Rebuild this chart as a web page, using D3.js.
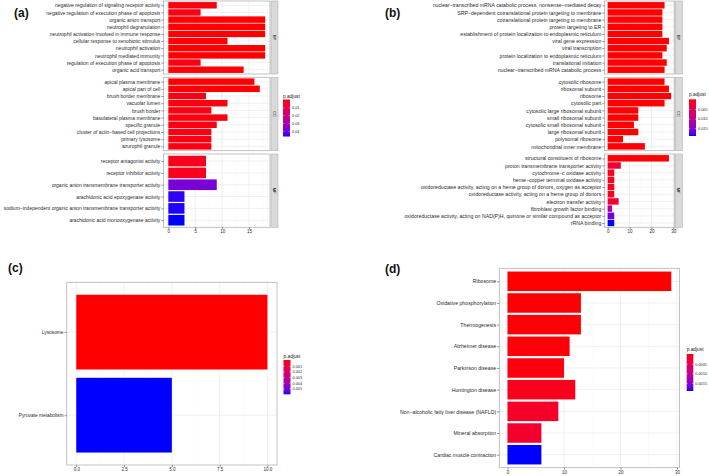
<!DOCTYPE html>
<html><head><meta charset="utf-8">
<script src="https://cdn.jsdelivr.net/npm/d3@7"></script>
<style>body{margin:0;background:#fff}svg text{font-family:'Liberation Sans',Arial,Helvetica,sans-serif}</style>
</head><body><svg id="c" width="709" height="476"></svg>
<script>
// ---------- Panel (a) data ----------
const aBPTerms = ["negative regulation of signaling receptor activity","negative regulation of execution phase of apoptosis","organic anion transport","neutrophil degranulation","neutrophil activation involved in immune response","cellular response to xenobiotic stimulus","neutrophil activation","neutrophil mediated immunity","regulation of execution phase of apoptosis","organic acid transport"];
const aBPCounts = [9,6,18,18,18,11,18,18,6,14];
const aBPPadj = [0.0015,0.002,0.0005,0.0006,0.0006,0.0012,0.0006,0.0006,0.002,0.001];
const aCCTerms = ["apical plasma membrane","apical part of cell","brush border membrane","vacuolar lumen","brush border","basolateral plasma membrane","specific granule","cluster of actin−based cell projections","primary lysosome","azurophil granule"];
const aCCCounts = [16,17,7,11,8,11,9,8,8,8];
const aCCPadj = [0.0008,0.0008,0.002,0.0015,0.002,0.0015,0.002,0.002,0.002,0.002];
const aMFTerms = ["receptor antagonist activity","receptor inhibitor activity","organic anion transmembrane transporter activity","arachidonic acid epoxygenase activity","sodium−independent organic anion transmembrane transporter activity","arachidonic acid monooxygenase activity"];
const aMFCounts = [7,7,9,3,3,3];
const aMFPadj = [0.003,0.003,0.038,0.0445,0.045,0.0455];
const aLegendTicks = [0.01,0.02,0.03,0.04];
const aLegendLabels = ["0.01","0.02","0.03","0.04"];
const aXTicks = [0,5,10,15];

// ---------- Panel (b) data ----------
const bBPTerms = ["nuclear−transcribed mRNA catabolic process, nonsense−mediated decay","SRP−dependent cotranslational protein targeting to membrane","cotranslational protein targeting to membrane","protein targeting to ER","establishment of protein localization to endoplasmic reticulum","viral gene expression","viral transcription","protein localization to endoplasmic reticulum","translational initiation","nuclear−transcribed mRNA catabolic process"];
const bBPCounts = [26,25,25,25,25,28,27,25,27,26];
const bBPPadj = [0.00002,0.00002,0.00002,0.00002,0.00002,0.00002,0.00002,0.00002,0.00002,0.00002];
const bCCTerms = ["cytosolic ribosome","ribosomal subunit","ribosome","cytosolic part","cytosolic large ribosomal subunit","small ribosomal subunit","cytosolic small ribosomal subunit","large ribosomal subunit","polysomal ribosome","mitochondrial inner membrane"];
const bCCCounts = [26,28,29,26,14,14,12,14,7,17];
const bCCPadj = [0.00001,0.00001,0.00001,0.00001,0.00002,0.00002,0.00002,0.00002,0.0003,0.0002];
const bMFTerms = ["structural constituent of ribosome","proton transmembrane transporter activity","cytochrome−c oxidase activity","heme−copper terminal oxidase activity","oxidoreductase activity, acting on a heme group of donors, oxygen as acceptor","oxidoreductase activity, acting on a heme group of donors","electron transfer activity","fibroblast growth factor binding","oxidoreductase activity, acting on NAD(P)H, quinone or similar compound as acceptor","rRNA binding"];
const bMFCounts = [28,6,3,3,3,3,5,2,3,3];
const bMFPadj = [0.00001,0.0025,0.0012,0.0012,0.0012,0.0012,0.0022,0.0115,0.0158,0.0184];
const bLegendTicks = [0.005,0.010,0.015];
const bLegendLabels = ["0.005","0.010","0.015"];
const bXTicks = [0,10,20,30];

// ---------- Panel (c) data ----------
const cTerms = ["Lysosome","Pyruvate metabolism"];
const cCounts = [10,5];
const cPadj = [0.00005,0.0058];
const cLegendTicks = [0.001,0.002,0.003,0.004,0.005];
const cLegendLabels = ["0.001","0.002","0.003","0.004","0.005"];
const cXTicks = [0,2.5,5,7.5,10];
const cXLabels = ["0.0","2.5","5.0","7.5","10.0"];

// ---------- Panel (d) data ----------
const dTerms = ["Ribosome","Oxidative phosphorylation","Thermogenesis","Alzheimer disease","Parkinson disease","Huntington disease","Non−alcoholic fatty liver disease (NAFLD)","Mineral absorption","Cardiac muscle contraction"];
const dCounts = [29,13,13,11,10,12,9,6,6];
const dPadj = [0.00001,0.00002,0.00003,0.00004,0.00005,0.00012,0.00018,0.00022,0.00185];
const dLegendTicks = [0.0005,0.0010,0.0015];
const dLegendLabels = ["0.0005","0.0010","0.0015"];
const dXTicks = [0,10,20,30];

const panelLabels = ["(a)","(b)","(c)","(d)"];
const stripLabels = ["BP","CC","MF"];

// ---------- drawing ----------
const svg = d3.select("#c");
const defs = svg.append("defs");
let gradId = 0;

function colorScale(dom){
  return d3.scaleLinear().domain(dom).range(["#ff0000","#0000ff"]).interpolate(d3.interpolateLab);
}

function drawPanel(o){
  const {x, y0, y1} = o;
  const [xl, xr] = x.range();
  const g = svg.append("g");
  const y = d3.scalePoint().domain(o.terms).range([y0, y1]).padding(0.6);
  const bh = y.step()*0.9;
  g.append("rect").attr("x",xl).attr("y",y0).attr("width",xr-xl).attr("height",y1-y0).attr("fill","#fff");
  const [dl, dr] = x.domain();
  const tv = o.ticks;
  const step = tv[1]-tv[0];
  const minors = [];
  for(let v = tv[0]-step/2; v <= dr; v += step){ if(v>=dl) minors.push(v); }
  g.selectAll(".mn").data(minors).join("line").attr("x1",d=>x(d)).attr("x2",d=>x(d))
    .attr("y1",y0).attr("y2",y1).attr("stroke","#f2f2f2").attr("stroke-width",0.35);
  g.selectAll(".mj").data(tv).join("line").attr("x1",d=>x(d)).attr("x2",d=>x(d))
    .attr("y1",y0).attr("y2",y1).attr("stroke","#e6e6e6").attr("stroke-width",0.6);
  g.selectAll(".hg").data(o.terms).join("line").attr("x1",xl).attr("x2",xr)
    .attr("y1",d=>y(d)).attr("y2",d=>y(d)).attr("stroke","#e6e6e6").attr("stroke-width",0.6);
  g.selectAll(".bar").data(o.terms).join("rect")
    .attr("x",x(0)).attr("y",d=>y(d)-bh/2)
    .attr("width",(d,i)=>x(o.counts[i])-x(0)).attr("height",bh)
    .attr("fill",(d,i)=>o.col(o.padj[i]));
  g.append("rect").attr("x",xl).attr("y",y0).attr("width",xr-xl).attr("height",y1-y0)
    .attr("fill","none").attr("stroke","#b3b3b3").attr("stroke-width",0.8);
  const ya = g.append("g").attr("transform",`translate(${xl},0)`)
    .call(d3.axisLeft(y).tickSize(2.2).tickPadding(1));
  ya.select(".domain").remove();
  ya.selectAll("line").attr("stroke","#333").attr("stroke-width",0.5);
  ya.selectAll("text").attr("font-size",o.labelFont).attr("fill","#2b2b2b").attr("font-family",null);
  if(o.strip){
    g.append("rect").attr("x",o.stripX).attr("y",y0).attr("width",7).attr("height",y1-y0)
      .attr("fill","#d9d9d9").attr("stroke","#b3b3b3").attr("stroke-width",0.6);
    g.append("text").attr("transform",`translate(${o.stripX+3.5},${(y0+y1)/2}) rotate(90)`)
      .attr("text-anchor","middle").attr("dy","0.35em").attr("font-size",4.2).attr("fill","#1a1a1a").text(o.strip);
  }
}

function drawXAxis(x, yPos, ticks, labels){
  const ax = svg.append("g").attr("transform",`translate(0,${yPos})`)
    .call(d3.axisBottom(x).tickValues(ticks).tickSize(2).tickPadding(1)
      .tickFormat((d,i)=> labels ? labels[i] : d3.format("d")(d)));
  ax.select(".domain").remove();
  ax.selectAll("line").attr("stroke","#333").attr("stroke-width",0.5);
  ax.selectAll("text").attr("font-size",4.5).attr("fill","#2b2b2b").attr("font-family",null);
}

function drawLegend(o){
  const id = "grad"+(gradId++);
  const lg = defs.append("linearGradient").attr("id",id).attr("x1",0).attr("x2",0).attr("y1",0).attr("y2",1);
  d3.range(0,1.0001,0.05).forEach(t=>{
    lg.append("stop").attr("offset",t).attr("stop-color",d3.interpolateLab("#ff0000","#0000ff")(t));
  });
  svg.append("text").attr("x",o.x).attr("y",o.titleY).attr("font-size",4.8).attr("fill","#1a1a1a").text("p.adjust");
  svg.append("rect").attr("x",o.x).attr("y",o.top).attr("width",o.w).attr("height",o.bottom-o.top).attr("fill",`url(#${id})`);
  const L = o.bottom-o.top;
  const ls = d3.scaleLinear().domain(o.domain).range([o.top+L*0.025, o.bottom-L*0.025]);
  o.ticks.forEach((t,i)=>{
    svg.append("line").attr("x1",o.x).attr("x2",o.x+1.4).attr("y1",ls(t)).attr("y2",ls(t)).attr("stroke","#fff").attr("stroke-width",0.4);
    svg.append("line").attr("x1",o.x+o.w-1.4).attr("x2",o.x+o.w).attr("y1",ls(t)).attr("y2",ls(t)).attr("stroke","#fff").attr("stroke-width",0.4);
    svg.append("text").attr("x",o.x+o.w+2).attr("y",ls(t)).attr("dy","0.35em").attr("font-size",3.8).attr("fill","#2b2b2b").text(o.labels[i]);
  });
}

// ----- Panel (a) -----
{
  const all = aBPCounts.concat(aCCCounts, aMFCounts);
  const mx = d3.max(all);
  const x = d3.scaleLinear().domain([-0.05*mx, 1.05*mx]).range([163.5, 270]);
  const pd = d3.extent(aBPPadj.concat(aCCPadj, aMFPadj));
  const col = colorScale(pd);
  const facets = [[1,74,aBPTerms,aBPCounts,aBPPadj],[77.3,150.7,aCCTerms,aCCCounts,aCCPadj],[154,227.3,aMFTerms,aMFCounts,aMFPadj]];
  facets.forEach((f,i)=>drawPanel({x,y0:f[0],y1:f[1],terms:f[2],counts:f[3],padj:f[4],col,labelFont:5.0,strip:stripLabels[i],stripX:271,ticks:aXTicks}));
  drawXAxis(x, 227.3, aXTicks, null);
  drawLegend({x:283, titleY:97.5, top:99.5, bottom:136.5, w:7, domain:pd, ticks:aLegendTicks, labels:aLegendLabels});
}
// ----- Panel (b) -----
{
  const all = bBPCounts.concat(bCCCounts, bMFCounts);
  const mx = d3.max(all);
  const x = d3.scaleLinear().domain([-0.05*mx, 1.05*mx]).range([604.5, 674.3]);
  const pd = d3.extent(bBPPadj.concat(bCCPadj, bMFPadj));
  const col = colorScale(pd);
  const facets = [[1,74,bBPTerms,bBPCounts,bBPPadj],[77.3,150.7,bCCTerms,bCCCounts,bCCPadj],[154,227.3,bMFTerms,bMFCounts,bMFPadj]];
  facets.forEach((f,i)=>drawPanel({x,y0:f[0],y1:f[1],terms:f[2],counts:f[3],padj:f[4],col,labelFont:5.2,strip:stripLabels[i],stripX:675.3,ticks:bXTicks}));
  drawXAxis(x, 227.3, bXTicks, null);
  drawLegend({x:689, titleY:96, top:99.3, bottom:136, w:7, domain:pd, ticks:bLegendTicks, labels:bLegendLabels});
}
// ----- Panel (c) -----
{
  const mx = d3.max(cCounts);
  const x = d3.scaleLinear().domain([-0.05*mx, 1.05*mx]).range([66.7, 277]);
  const pd = d3.extent(cPadj);
  const col = colorScale(pd);
  drawPanel({x,y0:282.3,y1:465,terms:cTerms,counts:cCounts,padj:cPadj,col,labelFont:4.8,strip:null,ticks:cXTicks});
  drawXAxis(x, 465, cXTicks, cXLabels);
  drawLegend({x:283.5, titleY:357.7, top:360, bottom:394.3, w:7, domain:pd, ticks:cLegendTicks, labels:cLegendLabels});
}
// ----- Panel (d) -----
{
  const mx = d3.max(dCounts);
  const x = d3.scaleLinear().domain([-0.05*mx, 1.05*mx]).range([499.3, 679.5]);
  const pd = d3.extent(dPadj);
  const col = colorScale(pd);
  drawPanel({x,y0:268.3,y1:467.7,terms:dTerms,counts:dCounts,padj:dPadj,col,labelFont:5.2,strip:null,ticks:dXTicks});
  drawXAxis(x, 467.7, dXTicks, null);
  drawLegend({x:686.7, titleY:351, top:354, bottom:391, w:6.6, domain:pd, ticks:dLegendTicks, labels:dLegendLabels});
}
// panel letters
const letterPos = [[14,16.8],[385,16.8],[8,271.8],[385,272.5]];
svg.selectAll(".plab").data(panelLabels).join("text")
  .attr("x",(d,i)=>letterPos[i][0]).attr("y",(d,i)=>letterPos[i][1])
  .attr("font-size",12).attr("font-weight","bold").attr("fill","#111").text(d=>d);
</script></body></html>
